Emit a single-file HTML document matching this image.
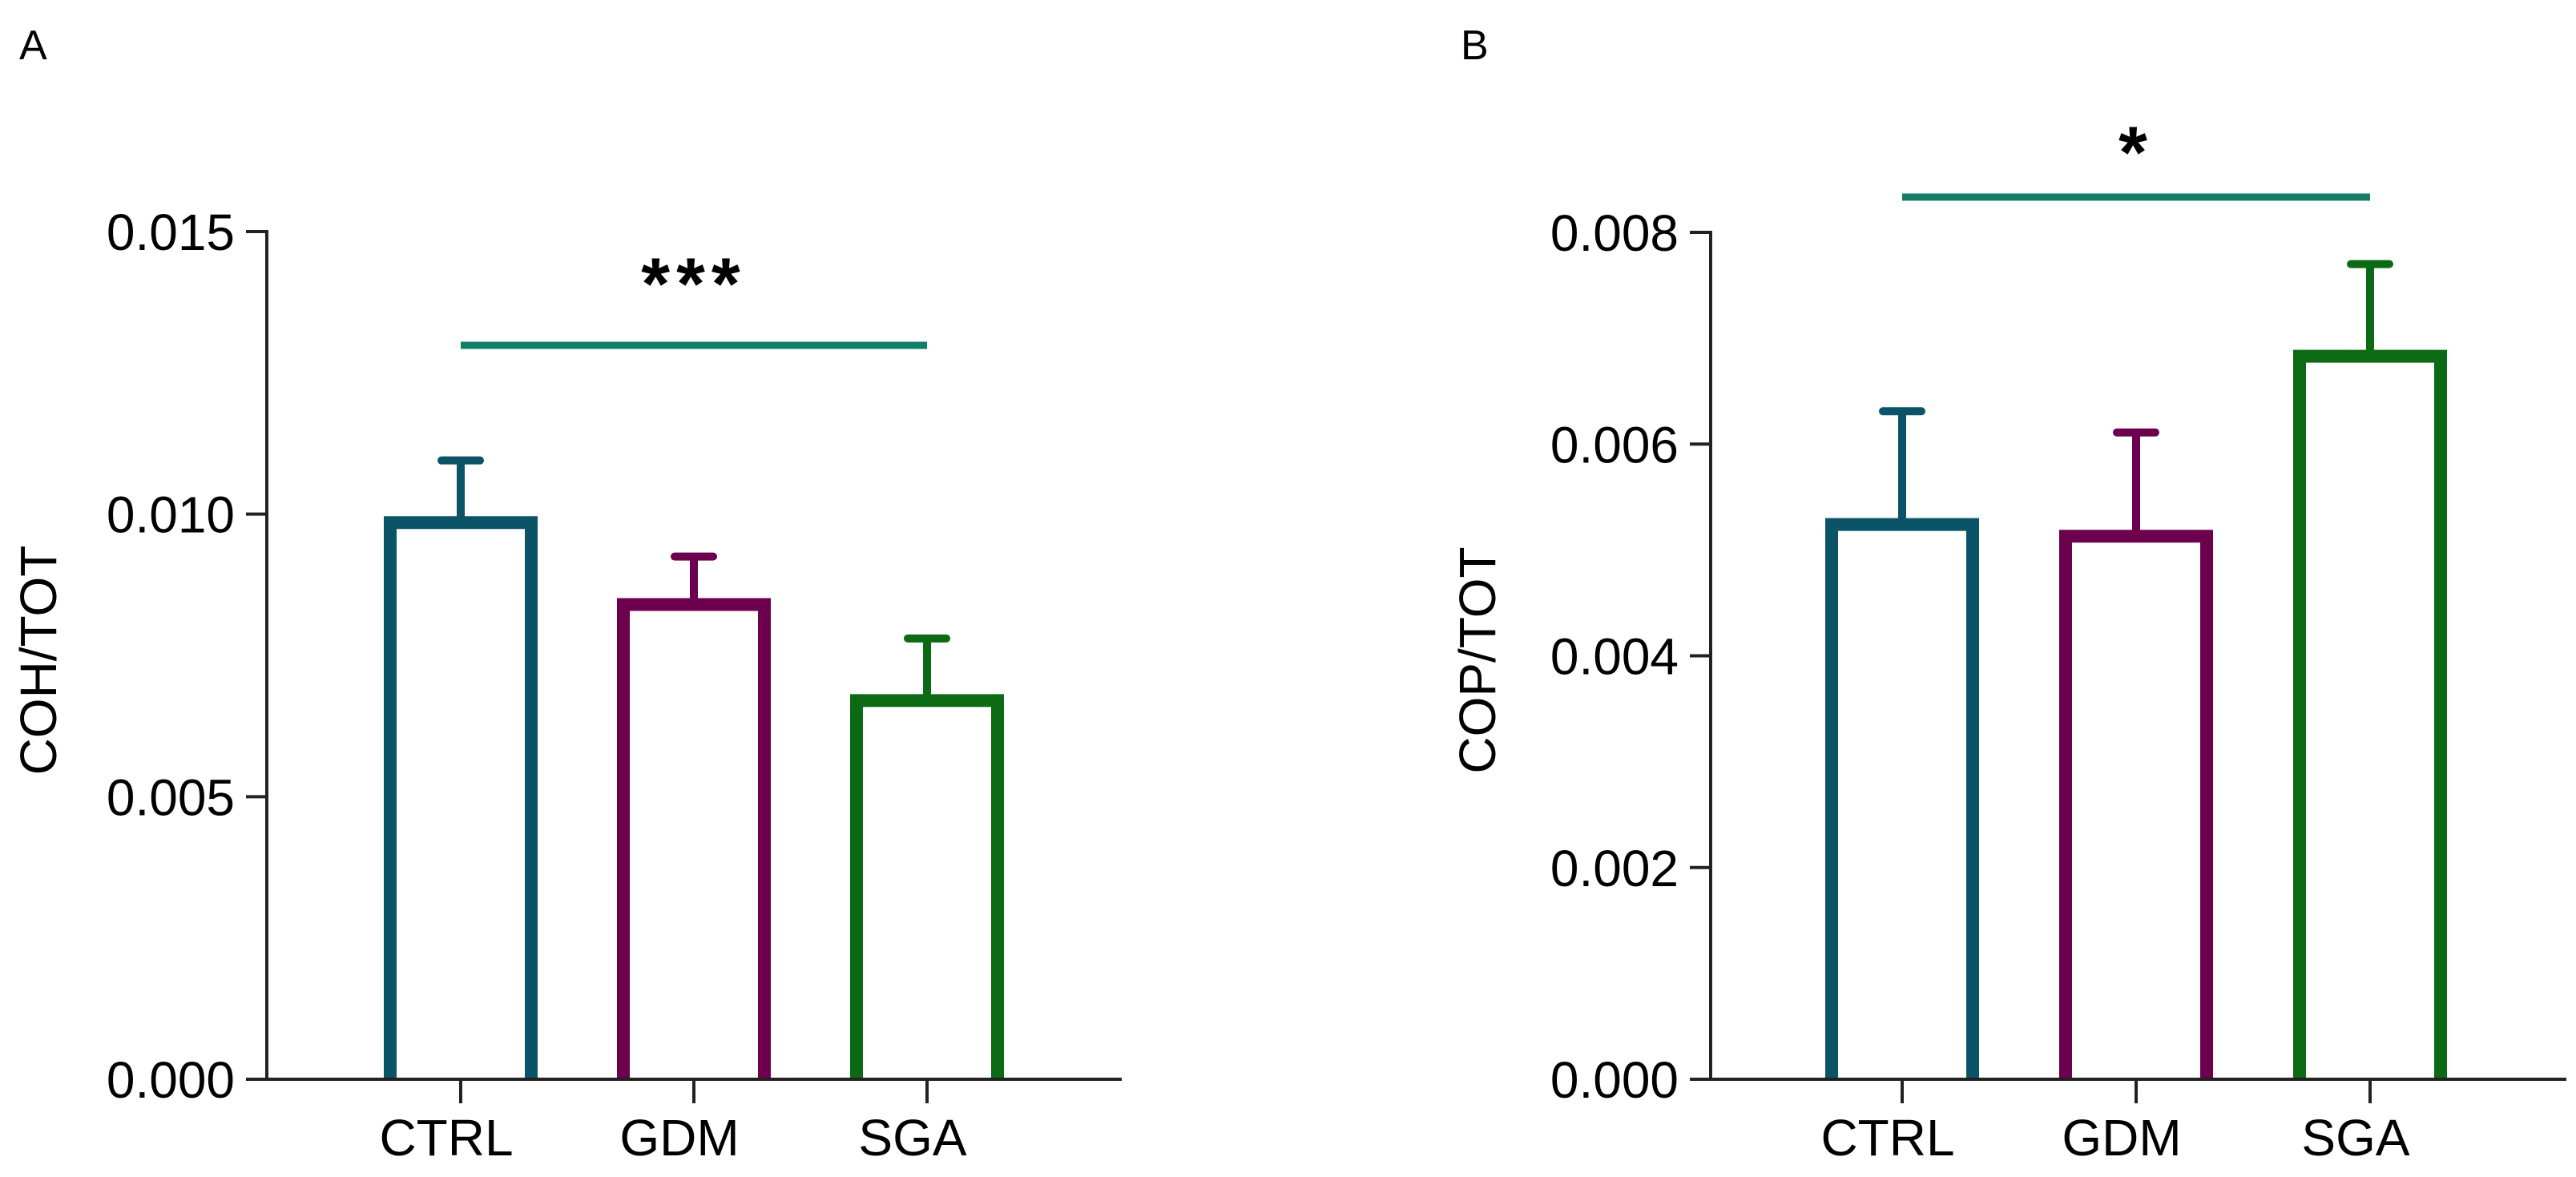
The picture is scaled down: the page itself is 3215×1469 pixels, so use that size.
<!DOCTYPE html>
<html><head><meta charset="utf-8"><style>
html,body{margin:0;padding:0;background:#fff;}
svg{display:block;font-family:"Liberation Sans",Arial,sans-serif;}
</style></head><body>
<svg id="fig" width="3215" height="1469" viewBox="0 0 3215 1469" xmlns="http://www.w3.org/2000/svg"></svg>
<script>
const categories = ["CTRL","GDM","SGA"];
const colors = ["#0b5468","#6c004f","#0d6a14"];
const valuesA = [0.00985, 0.0084, 0.0067];
const errorsA = [0.0011, 0.00085, 0.0011];
const ticksA = [0, 0.005, 0.010, 0.015];
const tickLabelsA = ["0.000","0.005","0.010","0.015"];
const valuesB = [0.00524, 0.00513, 0.00683];
const errorsB = [0.00107, 0.00098, 0.00087];
const ticksB = [0, 0.002, 0.004, 0.006, 0.008];
const tickLabelsB = ["0.000","0.002","0.004","0.006","0.008"];

const NS = "http://www.w3.org/2000/svg";
const svg = document.getElementById("fig");
function mk(tag, attrs, parent){
  const e = document.createElementNS(NS, tag);
  for (const k in attrs) e.setAttribute(k, attrs[k]);
  (parent||svg).appendChild(e);
  return e;
}
function panel(opt){
  const g = mk("g", {});
  
  
  const y = v => opt.y0 - (v / opt.max) * (opt.y0 - opt.yTop);
  const x = i => opt.x0 + opt.step * i;
  const L = mk("text", {x: opt.letterX, y: 74, "font-size": 52, fill: "#000"}, g);
  L.textContent = opt.letter;
  
  
  for (let i = 0; i < categories.length; i++){
    const cx = x(i), top = y(opt.values[i]), etop = y(opt.values[i] + opt.errors[i]);
    const stem = mk("line", {x1: cx, x2: cx, y1: top, y2: etop, stroke: colors[i], "stroke-width": 10}, g);
    
    
    const cap = mk("line", {x1: cx - 24, x2: cx + 24, y1: etop, y2: etop, stroke: colors[i], "stroke-width": 10, "stroke-linecap": "round"}, g);
    
    
    const hw = 88;
    const bar = mk("path", {d: `M${cx-hw},${opt.y0} L${cx-hw},${top} L${cx+hw},${top} L${cx+hw},${opt.y0}`, fill: "#fff", stroke: colors[i], "stroke-width": 16, "stroke-linejoin": "miter"}, g);
    
    
  }
  const ya = mk("line", {x1: opt.axisX, x2: opt.axisX, y1: opt.yTop - 2, y2: opt.y0 + 2, stroke: "#222", "stroke-width": 4}, g);
  
  
  const xa = mk("line", {x1: opt.axisX - 26, x2: opt.xEnd, y1: opt.y0, y2: opt.y0, stroke: "#222", "stroke-width": 4}, g);
  
  
  for (let t = 0; t < opt.ticks.length; t++){
    const ty = y(opt.ticks[t]);
    const tl = mk("line", {x1: opt.axisX - 26, x2: opt.axisX, y1: ty, y2: ty, stroke: "#222", "stroke-width": 4}, g);
    
    
    const tx = mk("text", {x: opt.axisX - 40, y: ty + 23, "font-size": 64, "text-anchor": "end", fill: "#000"}, g);
    tx.textContent = opt.tickLabels[t];
    
    
  }
  for (let i = 0; i < categories.length; i++){
    const cx = x(i);
    const tk = mk("line", {x1: cx, x2: cx, y1: opt.y0, y2: opt.y0 + 30, stroke: "#222", "stroke-width": 4}, g);
    
    
    const lb = mk("text", {x: cx - 18, y: opt.y0 + 95, "font-size": 64, "text-anchor": "middle", fill: "#000"}, g);
    lb.textContent = categories[i];
    
    
  }
  const yt = mk("text", {x: 0, y: 0, "font-size": 64, "text-anchor": "middle", fill: "#000", transform: `translate(${opt.ylabX},${opt.ylabY}) rotate(-90)`}, g);
  yt.textContent = opt.ylabel;
  
  
  const sl = mk("line", {x1: x(0), x2: x(2), y1: opt.sigY, y2: opt.sigY, stroke: "#137e66", "stroke-width": 9}, g);
  
  
  const st = mk("text", {x: (x(0) + x(2)) / 2, y: opt.starY, "font-size": 92, "font-weight": "bold", "letter-spacing": 8, "text-anchor": "middle", fill: "#000"}, g);
  st.textContent = opt.stars;
  
  
}
panel({name: "panel-a", letter: "A", letterX: 24, values: valuesA, errors: errorsA, ticks: ticksA, tickLabels: tickLabelsA, max: 0.015,
  y0: 1347, yTop: 289, axisX: 333, x0: 575, step: 291, xEnd: 1400, ylabX: 70, ylabY: 824, ylabel: "COH/TOT", sigY: 431, starY: 386, stars: "***"});
panel({name: "panel-b", letter: "B", letterX: 1823, values: valuesB, errors: errorsB, ticks: ticksB, tickLabels: tickLabelsB, max: 0.008,
  y0: 1347, yTop: 290, axisX: 2135, x0: 2374, step: 292, xEnd: 3203, ylabX: 1866, ylabY: 824, ylabel: "COP/TOT", sigY: 246, starY: 222, stars: "*"});
</script>
</body></html>
